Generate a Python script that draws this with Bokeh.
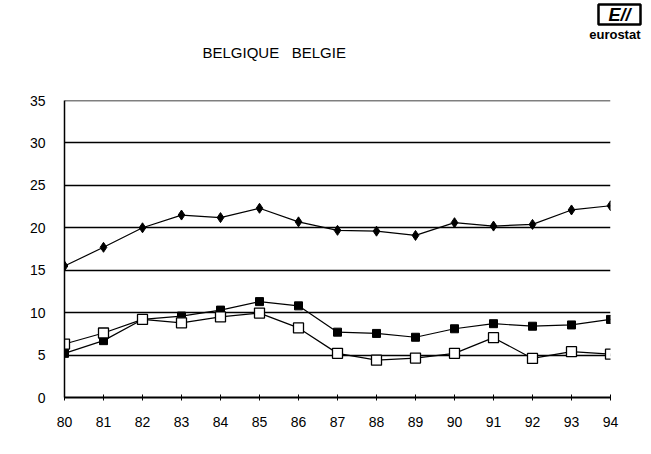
from bokeh.plotting import figure
from bokeh.models import FixedTicker, ColumnDataSource, Span, Title
from bokeh.embed import file_html
from bokeh.resources import INLINE

years = [80, 81, 82, 83, 84, 85, 86, 87, 88, 89, 90, 91, 92, 93, 94]
series_diamond = [15.5, 17.7, 20.0, 21.5, 21.2, 22.3, 20.7, 19.7, 19.6, 19.1, 20.6, 20.2, 20.4, 22.1, 22.6]
series_filled = [5.2, 6.7, 9.2, 9.6, 10.3, 11.3, 10.8, 7.7, 7.55, 7.1, 8.1, 8.7, 8.4, 8.55, 9.2]
series_open = [6.3, 7.6, 9.2, 8.8, 9.5, 9.95, 8.2, 5.2, 4.4, 4.65, 5.2, 7.05, 4.6, 5.4, 5.1]
y_ticks = [0, 5, 10, 15, 20, 25, 30, 35]
title_text = "BELGIQUE\u00a0\u00a0\u00a0BELGIE"

FONT = "Liberation Sans"

p = figure(width=643, height=446, output_backend="svg", toolbar_location=None,
           x_range=(80, 94), y_range=(0, 35),
           min_border_left=64, min_border_right=33, min_border_top=100, min_border_bottom=49)
p.outline_line_color = None
p.background_fill_color = "white"

p.xgrid.visible = False
p.ygrid.ticker = FixedTicker(ticks=y_ticks)
p.ygrid.grid_line_color = "black"
p.ygrid.grid_line_width = 1.5

p.yaxis.ticker = FixedTicker(ticks=y_ticks)
p.xaxis.ticker = FixedTicker(ticks=years)
p.yaxis.major_tick_line_color = None
p.yaxis.minor_tick_line_color = None
p.xaxis.minor_tick_line_color = None
p.xaxis.major_tick_in = 3
p.xaxis.major_tick_out = 3
p.xaxis.major_tick_line_color = "black"
p.axis.axis_line_color = "black"
p.yaxis.axis_line_width = 1.5
p.xaxis.axis_line_width = 2
p.axis.major_label_text_font = FONT
p.axis.major_label_text_font_size = "14px"
p.axis.major_label_text_color = "black"
p.yaxis.major_label_standoff = 13
p.xaxis.major_label_standoff = 16

p.add_layout(Span(location=35, dimension="width", line_color="black", line_width=1.5))

src = ColumnDataSource(dict(x=years, d=series_diamond, f=series_filled, o=series_open))

p.line("x", "d", source=src, line_color="black", line_width=1.2)
p.scatter("x", "d", source=src, marker="diamond", size=10, fill_color="black", line_color="black")

p.line("x", "f", source=src, line_color="black", line_width=1.2)
p.scatter("x", "f", source=src, marker="square", size=8, fill_color="black", line_color="black")

p.line("x", "o", source=src, line_color="black", line_width=1.2)
p.scatter("x", "o", source=src, marker="square", size=10, fill_color="white", line_color="black", line_width=1.3)

# spacer next to the frame, then the title, then the logo stacked above it
p.add_layout(Title(text="\u00a0", standoff=37, text_font=FONT, text_font_size="1px"), "above")
p.add_layout(Title(text=title_text, align="left", offset=138, standoff=0,
                   text_font=FONT, text_font_size="15px", text_font_style="normal",
                   text_color="black"), "above")
p.add_layout(Title(text="eurostat", align="right", offset=-30, standoff=0,
                   text_font=FONT, text_font_size="13px", text_font_style="bold",
                   text_color="black"), "above")
p.add_layout(Title(text="E//", align="right", offset=-30, standoff=0,
                   text_font=FONT, text_font_size="18px", text_font_style="bold italic",
                   text_color="black", border_line_color="black", border_line_width=2.5,
                   background_fill_color="white", padding=(10, 0)), "above")

open("out.html", "w").write(file_html(p, INLINE))
